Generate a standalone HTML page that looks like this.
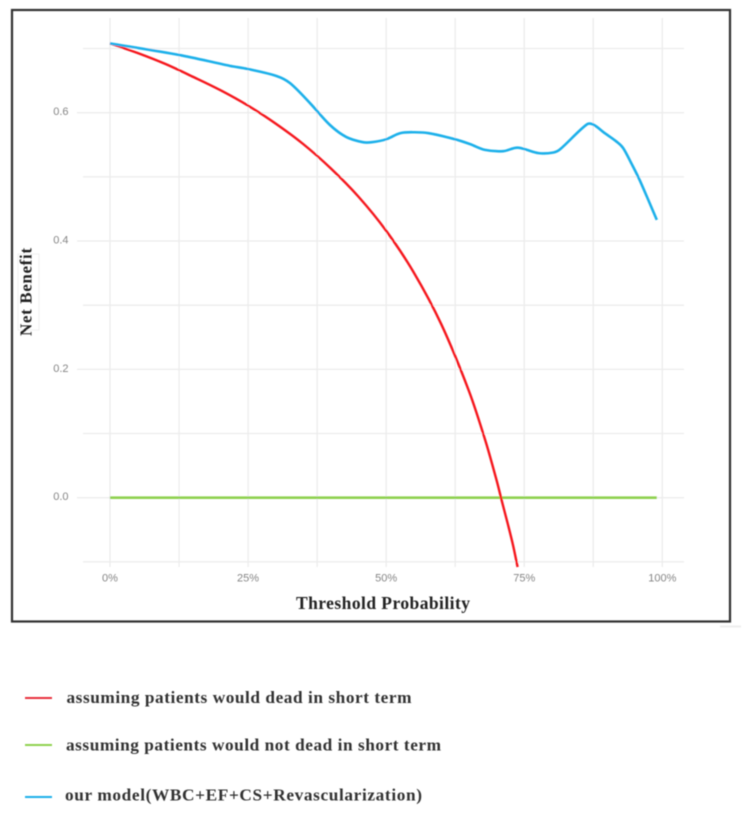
<!DOCTYPE html>
<html lang="en">
<head>
<meta charset="utf-8">
<title>Decision curve</title>
<style>
  html, body { margin: 0; padding: 0; background: #fff; }
  body { width: 744px; height: 816px; overflow: hidden; }
  svg { display: block; }
</style>
</head>
<body>
<svg id="chart" width="744" height="816" viewBox="0 0 744 816" xmlns="http://www.w3.org/2000/svg">
  <defs>
    <filter id="soft" x="-2%" y="-2%" width="104%" height="104%"><feGaussianBlur stdDeviation="0.5"/></filter>
  </defs>
  <rect width="744" height="816" fill="#fff"/>
  <g id="root" filter="url(#soft)">
    <rect x="12" y="10" width="718" height="611.5" fill="none" stroke="#333" stroke-width="2.2"/>
    <rect x="720" y="625.5" width="21" height="2" fill="#eee"/>
    <rect x="18" y="254" width="21" height="76" fill="none" stroke="#f0f0f0" stroke-width="1"/>
    <g id="grid"></g>
    <g id="axes"></g>
    <g id="series"></g>
    <text x="383" y="609" text-anchor="middle" textLength="174" lengthAdjust="spacing" font-family="'Liberation Serif', serif" font-weight="700" font-size="17.500" fill="#222">Threshold Probability</text>
    <text transform="translate(31.500,292) rotate(-90)" text-anchor="middle" textLength="88" lengthAdjust="spacing" font-family="'Liberation Serif', serif" font-weight="700" font-size="17" fill="#222">Net Benefit</text>
    <g font-family="'Liberation Serif', serif" font-weight="700" font-size="17.300" fill="#333">
      <g>
        <line x1="25" x2="52" y1="698" y2="698" stroke="#e8303c" stroke-width="2"/>
        <text x="66.500" y="703" textLength="345" lengthAdjust="spacing">assuming patients would dead in short term</text>
      </g>
      <g>
        <line x1="25" x2="52" y1="745" y2="745" stroke="#8fd14f" stroke-width="2"/>
        <text x="66" y="750.500" textLength="375" lengthAdjust="spacing">assuming patients would not dead in short term</text>
      </g>
      <g>
        <line x1="25" x2="52" y1="797" y2="797" stroke="#1fb0ea" stroke-width="2"/>
        <text x="65" y="800.500" textLength="357" lengthAdjust="spacing">our model(WBC+EF+CS+Revascularization)</text>
      </g>
    </g>
  </g>
</svg>
<script>
const xTicks = [0, 25, 50, 75, 100];
const xMinorTicks = [12.5, 37.5, 62.5, 87.5];
const yTicks = [0.0, 0.2, 0.4, 0.6];
const yMinorTicks = [-0.1, 0.1, 0.3, 0.5, 0.7];

const redThreshold = [0, 5, 10, 15, 20, 25, 30, 35, 40, 45, 50, 55, 60, 65, 68, 70, 71, 72, 73, 73.8];
const redBenefit = [0.708, 0.693, 0.676, 0.656, 0.635, 0.611, 0.583, 0.551, 0.513, 0.469, 0.416, 0.351, 0.270, 0.166, 0.088, 0.027, -0.007, -0.040, -0.075, -0.108];

const greenThreshold = [0, 99];
const greenBenefit = [0, 0];

const blueThreshold = [0, 12.5, 21.7, 25, 30.2, 32.6, 36.2, 39.8, 42.8, 45.8, 47.4, 50, 52.5, 55.2, 57.7, 62.5, 65.2, 67.9, 71.2, 73.8, 77.6, 80.3, 81.5, 86.3, 87.5, 89.6, 91.7, 92.9, 94.4, 95.9, 99];
const blueBenefit = [0.708, 0.690, 0.673, 0.668, 0.657, 0.646, 0.615, 0.581, 0.562, 0.554, 0.554, 0.5585, 0.568, 0.5695, 0.568, 0.5585, 0.551, 0.542, 0.540, 0.5455, 0.537, 0.538, 0.543, 0.5815, 0.5815, 0.568, 0.555, 0.545, 0.521, 0.495, 0.433];

const NS = 'http://www.w3.org/2000/svg';
function xScale(p) { return 110 + p * 5.523; }
function yScale(v) { return 497.7 - v * 641.7; }

function makeLine(parent, x1, y1, x2, y2, color, width) {
  const l = document.createElementNS(NS, 'line');
  l.setAttribute('x1', x1);
  l.setAttribute('y1', y1);
  l.setAttribute('x2', x2);
  l.setAttribute('y2', y2);
  l.setAttribute('stroke', color);
  l.setAttribute('stroke-width', width);
  parent.appendChild(l);
  return l;
}

function makeLabel(parent, x, y, anchor, content) {
  const t = document.createElementNS(NS, 'text');
  t.setAttribute('x', x);
  t.setAttribute('y', y);
  t.setAttribute('text-anchor', anchor);
  t.setAttribute('font-family', "'Liberation Sans', sans-serif");
  t.setAttribute('font-size', '11');
  t.setAttribute('fill', '#858585');
  t.textContent = content;
  parent.appendChild(t);
  return t;
}

function smoothPath(xs, ys) {
  const px = xs.map(xScale);
  const py = ys.map(yScale);
  const n = px.length;
  const slope = px.map(function (_, i) {
    const a = Math.max(i - 1, 0);
    const b = Math.min(i + 1, n - 1);
    return (py[b] - py[a]) / (px[b] - px[a]);
  });
  let d = 'M' + px[0].toFixed(2) + ' ' + py[0].toFixed(2);
  for (let i = 0; i < n - 1; i++) {
    const h = (px[i + 1] - px[i]) / 3;
    d += 'C' + (px[i] + h).toFixed(2) + ' ' + (py[i] + slope[i] * h).toFixed(2) + ' ' +
      (px[i + 1] - h).toFixed(2) + ' ' + (py[i + 1] - slope[i + 1] * h).toFixed(2) + ' ' +
      px[i + 1].toFixed(2) + ' ' + py[i + 1].toFixed(2);
  }
  return d;
}

function makeSeries(parent, xs, ys, color, width) {
  const p = document.createElementNS(NS, 'path');
  p.setAttribute('d', smoothPath(xs, ys));
  p.setAttribute('fill', 'none');
  p.setAttribute('stroke', color);
  p.setAttribute('stroke-width', width);
  p.setAttribute('stroke-linejoin', 'round');
  parent.appendChild(p);
  return p;
}

const grid = document.getElementById('grid');
const axes = document.getElementById('axes');
const series = document.getElementById('series');
const gridColor = '#ececec';

xMinorTicks.forEach(function (p) {
  const l = makeLine(grid, xScale(p), 18, xScale(p), 567, gridColor, 1.3);
  
  
});
xTicks.forEach(function (p) {
  const l = makeLine(grid, xScale(p), 18, xScale(p), 567, gridColor, 1.3);
  
  
  const t = makeLabel(axes, xScale(p), 581.5, 'middle', p + '%');
  
  
});
yMinorTicks.forEach(function (v) {
  const l = makeLine(grid, 83, yScale(v), 684, yScale(v), gridColor, 1.3);
  
  
});
yTicks.forEach(function (v) {
  const l = makeLine(grid, 77, yScale(v), 684, yScale(v), gridColor, 1.3);
  
  
  const t = makeLabel(axes, 68.5, yScale(v) + 2.5, 'end', v.toFixed(1));
  
  
});

const greenLine = makeSeries(series, greenThreshold, greenBenefit, '#8fd14f', 2.6);


const redLine = makeSeries(series, redThreshold, redBenefit, '#f5141e', 2.4);


const blueLine = makeSeries(series, blueThreshold, blueBenefit, '#1fb0ea', 2.6);


</script>
</body>
</html>
